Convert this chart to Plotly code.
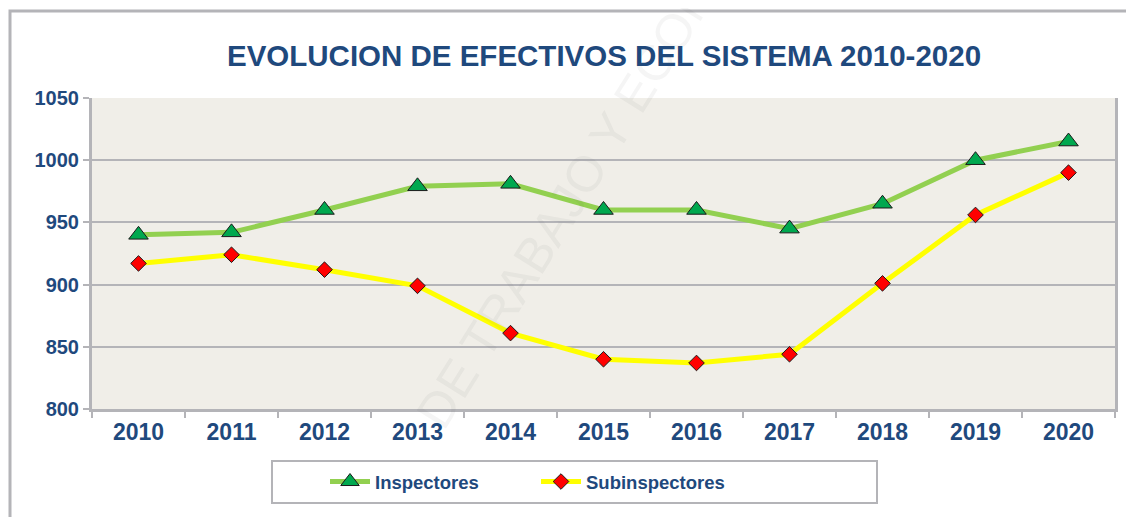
import plotly.graph_objects as go

years = ["2010", "2011", "2012", "2013", "2014", "2015", "2016", "2017", "2018", "2019", "2020"]
inspectores = [940, 942, 960, 979, 981, 960, 960, 945, 965, 1000, 1015]
subinspectores = [917, 924, 912, 899, 861, 840, 837, 844, 901, 956, 990]
y_ticks = [800, 850, 900, 950, 1000, 1050]

OFF = 8  # page body margin
W, H = 1134 - OFF, 517 - OFF
# plot area in screen pixels
L, R, T, B = 92, 1115, 98, 409
navy = "#1f497d"
gray = "#b4b4b8"
FONT = "Liberation Sans, Arial, sans-serif"

def px(x):
    return (x - L) / (R - L)

def py(y):
    return (B - y) / (B - T)

fig = go.Figure()
fig.add_trace(go.Scatter(
    x=years, y=inspectores, name="Inspectores", mode="lines+markers",
    line=dict(color="#92d050", width=5),
    marker=dict(symbol="triangle-up", size=17, color="#00a84f",
                line=dict(color="#1a1a1a", width=1)),
))
fig.add_trace(go.Scatter(
    x=years, y=subinspectores, name="Subinspectores", mode="lines+markers",
    line=dict(color="#ffff00", width=5),
    marker=dict(symbol="diamond", size=12, color="#ff0000",
                line=dict(color="#1a1a1a", width=1)),
))

fig.update_layout(
    width=W, height=H,
    margin=dict(l=L - OFF, r=W - (R - OFF), t=T - OFF, b=H - (B - OFF)),
    paper_bgcolor="white",
    plot_bgcolor="#f0eee8",
    font=dict(family=FONT, color=navy),
    title=dict(text="EVOLUCION DE EFECTIVOS DEL SISTEMA 2010-2020",
               x=px(604), xref="paper", y=1 - (56 - OFF) / H, yref="container",
               xanchor="center", yanchor="middle",
               font=dict(size=29.5, color=navy, weight="bold", family=FONT)),
    showlegend=True,
    legend=dict(orientation="h", x=px(325), xanchor="left", y=py(482), yanchor="middle",
                bgcolor="rgba(0,0,0,0)", borderwidth=0,
                font=dict(size=18.5, color=navy, family=FONT, weight="bold"),
                entrywidth=156, entrywidthmode="pixels", itemwidth=40),
    xaxis=dict(type="category", tickson="boundaries", ticks="outside", ticklen=6,
               tickwidth=2, tickcolor=gray, showline=True, linecolor=gray, linewidth=3,
               showgrid=False, tickfont=dict(size=23, color=navy, weight="bold"),
               range=[-0.5, 10.5], fixedrange=True),
    yaxis=dict(range=[800, 1050], tickvals=y_ticks, ticks="outside", ticklen=6,
               tickwidth=2, tickcolor=gray, showline=True, linecolor=gray, linewidth=3,
               mirror=True, showgrid=True, gridcolor=gray, gridwidth=2,
               zeroline=False, tickfont=dict(size=20, color=navy, weight="bold")),
    shapes=[
        # outer chart frame
        dict(type="rect", xref="paper", yref="paper",
             x0=px(10), x1=px(1160), y0=py(540), y1=py(11),
             line=dict(color=gray, width=3), fillcolor="rgba(0,0,0,0)", layer="below"),
        # legend frame
        dict(type="rect", xref="paper", yref="paper",
             x0=px(272), x1=px(877), y0=py(503), y1=py(461),
             line=dict(color=gray, width=2), fillcolor="white", layer="below"),
    ],
    annotations=[
        dict(text="DE TRABAJO Y ECONOMÍA", xref="paper", yref="paper",
             x=px(600), y=py(150), xanchor="center", yanchor="middle",
             showarrow=False, textangle=-58,
             font=dict(size=50, color="rgba(90,90,90,0.06)")),
    ],
)

fig.write_html("out.html")
